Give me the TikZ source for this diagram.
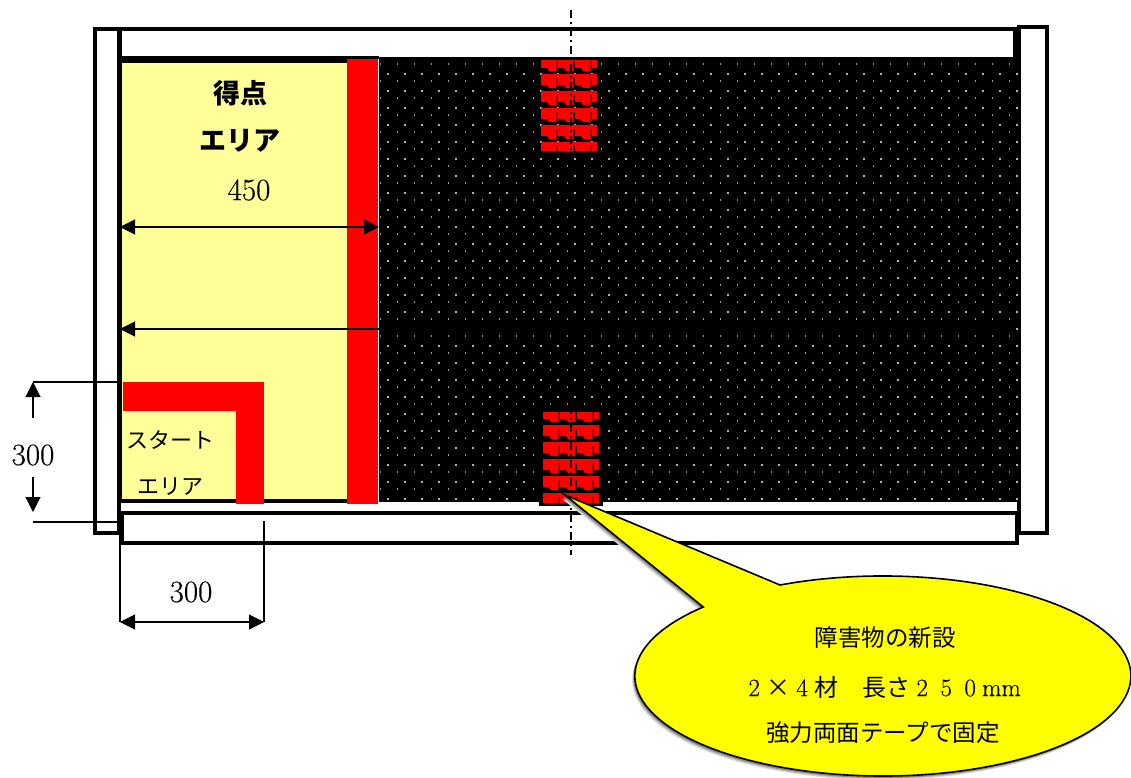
\documentclass[tikz,border=0pt]{standalone}
\usepackage{fontspec}
\usetikzlibrary{arrows.meta}
\newfontfamily\jp{Noto Sans CJK JP}
\newfontfamily\numf[FakeBold=0.35]{Latin Modern Roman}
\definecolor{areayellow}{HTML}{FFFF99}
\definecolor{callyellow}{HTML}{FFFF00}
\definecolor{purered}{HTML}{FF0000}
\tikzset{
  wall/.style={draw=black,line width=4pt,fill=white},
  dim/.style={line width=1.1pt,draw=black},
  arrowhead/.style={-{Stealth[length=15pt,width=15pt,inset=0pt]}},
  bothheads/.style={{Stealth[length=15pt,width=15pt,inset=0pt]}-{Stealth[length=15pt,width=15pt,inset=0pt]}},
  lab/.style={inner sep=0pt,font=\numf\fontsize{31}{31}\selectfont},
  jplab/.style={inner sep=0pt,font=\jp\fontsize{22}{22}\selectfont},
  jpbold/.style={inner sep=0pt,font=\jp\bfseries\fontsize{27}{27}\selectfont},
  calltext/.style={inner sep=0pt,font=\jp\fontsize{23.5}{23.5}\selectfont},
  callnum/.style={inner sep=0pt,font=\jp\fontsize{24}{24}\selectfont}
}
\newcommand{\zd}[1]{\makebox[24pt]{\numf\fontsize{25}{25}\selectfont #1}}
% one obstacle: left x, top y of clip, bottom y of clip, first row y
\newcommand{\obstacle}[4]{%
  \begin{scope}
    \clip (#1,#2) rectangle ({#1+56},#3);
    \foreach \r in {0,...,6}{
      \foreach \k in {-1,0,1,2,3}{
        \fill[purered] ({#1+\k*17},{#4+\r*17}) -- ++(17,0) -- ++(0,4) -- ++(-1.5,0) -- ++(0,10) -- ++(-7.5,0) -- ++(-2,-3) -- ++(-6,0) -- cycle;
      }
    }
  \end{scope}
}
\begin{document}
\begin{tikzpicture}[x=1pt,y=-1pt]
\useasboundingbox (0,0) rectangle (1131,778);
\clip (0,0) rectangle (1131,778);
% walls
\draw[wall] (95,29) rectangle (119,533);
\draw[wall] (119,29) rectangle (1015,60);
\draw[wall] (1019,27) rectangle (1047,533);
% field
\fill[black] (379,57) rectangle (1021,502);
\foreach \i in {0,...,37}{
  \foreach \j in {0,...,25}{
    \fill[white!70!black] ({388+17*\i-1},{74+17*\j-1.2}) rectangle ++(2.2,2.4);
    \fill[white!60!black] ({380+17*\i-0.5},{64+17*\j-1.2}) rectangle ++(1,2.4);
  }
}
% scoring area
\fill[areayellow] (120,61) rectangle (347,501);
\draw[black,line width=7pt] (117,59.5) -- (379,59.5);
\draw[black,line width=4.5pt] (120,27) -- (120,503);
\draw[black,line width=3.5pt] (120,501) -- (347,501);
\fill[purered] (347,59) rectangle (377.5,504);
\draw[white,line width=1pt] (378.5,59) -- (378.5,504);
% bottom wall
\draw[wall] (122,513) rectangle (1017,543);
% start area
\fill[purered] (123,382) rectangle (264,411);
\fill[purered] (236,382) rectangle (264,504);
% obstacles
\obstacle{541}{61}{151}{57}
\fill[black] (539,412) rectangle (603,506);
\obstacle{543}{412}{502}{408}
% centre line
\coordinate (ctop) at (571,10);
\coordinate (cbot) at (571,555);
\draw[black,line width=1.1pt,dash pattern=on 8pt off 4pt on 2pt off 4pt] (ctop) -- (cbot);
% dimensions
\coordinate (aL) at (120,227);
\coordinate (aR) at (379,227);
\draw[dim,bothheads] (aL) -- (aR);
\coordinate (bR) at (1005,329);
\coordinate (bL) at (120,329);
\draw[dim,arrowhead] (bR) -- (bL);
\coordinate (t1) at (33,382);
\coordinate (t2) at (120,382);
\coordinate (u1) at (33,522);
\coordinate (u2) at (120,522);
\draw[dim] (t1) -- (t2);
\draw[dim] (u1) -- (u2);
\coordinate (ua) at (33,418);
\coordinate (da) at (33,477);
\coordinate (db) at (33,512);
\draw[dim,arrowhead] (ua) -- (t1);
\draw[dim,arrowhead] (da) -- (db);
\coordinate (v1) at (120,503);
\coordinate (v2) at (120,622);
\coordinate (w1) at (264,521);
\coordinate (w2) at (264,622);
\draw[dim] (v1) -- (v2);
\draw[dim] (w1) -- (w2);
\draw[dim,bothheads] (v2) -- (w2);
% labels
\node[jpbold] (n1) at (240,93) {得点};
\node[jpbold] (n2) at (240,141) {エリア};
\node[lab] (n3) at (249,190) {450};
\node[jplab] (n4) at (170,440) {スタート};
\node[jplab] (n5) at (170,487) {エリア};
\node[lab] (n6) at (33,455) {300};
\node[lab] (n7) at (191,592) {300};
% callout
\def\callpath{(565,495) -- (780,585) arc[start angle=114.5,end angle=-223.6,x radius=248pt,y radius=100pt] -- cycle}
\foreach \o/\c in {4/12,3/25,2/45}{
  \fill[black!\c,xshift=-0.7*\o pt,yshift=-\o pt] \callpath;
}
\draw[black,line width=1.6pt,fill=callyellow,line join=miter] \callpath;
\node[calltext] (c1) at (885,638) {障害物の新設};
\node[callnum,anchor=west] (c2) at (742,687) {\zd{2}\makebox[24pt]{×}\zd{4}材\hspace{24pt}長さ\zd{2}\zd{5}\zd{0}{\numf\fontsize{25}{25}\selectfont mm}};
\node[calltext] (c3) at (883,733) {強力両面テープで固定};
\end{tikzpicture}
\end{document}
